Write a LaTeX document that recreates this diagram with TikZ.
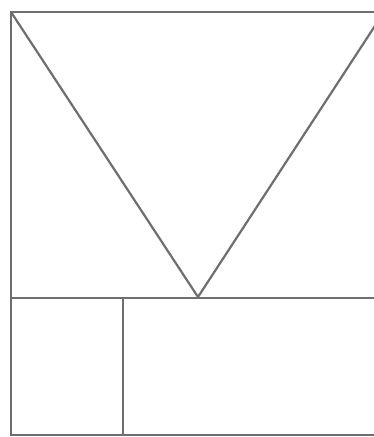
\documentclass[tikz,border=0pt]{standalone}
\begin{document}
\begin{tikzpicture}[x=1pt,y=-1pt,line width=2.6pt,
  edge/.style={draw=black!57, line cap=rect},
  diag/.style={draw=black!57, line width=2.2pt}]
\useasboundingbox (0,0) rectangle (374,437);
\coordinate (tl) at (11,12);
\coordinate (tr) at (384,12);
\coordinate (ml) at (11,298);
\coordinate (mr) at (384,298);
\coordinate (bl) at (11,435);
\coordinate (br) at (384,435);
\coordinate (apex) at (198,297);
\coordinate (vt) at (123,298);
\coordinate (vb) at (123,435);
\draw[diag] (tl) -- (apex) -- (tr);
\draw[edge] (tr) -- (tl) -- (bl) -- (br);
\draw[edge] (ml) -- (mr);
\draw[edge] (vt) -- (vb);
\end{tikzpicture}
\end{document}
